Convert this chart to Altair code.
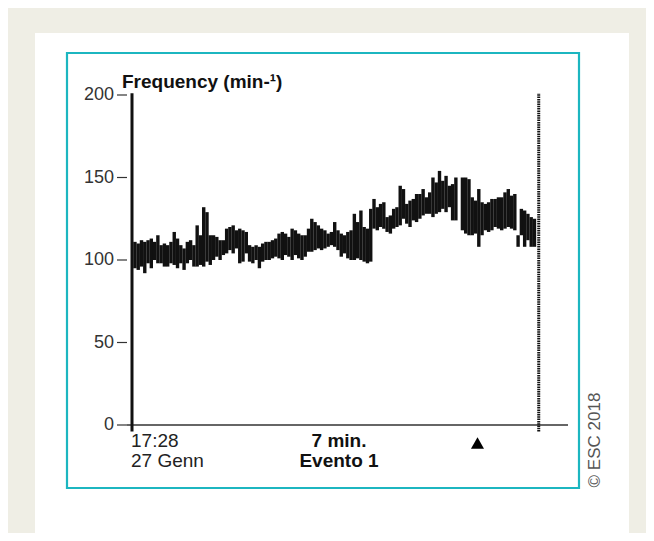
import altair as alt
import pandas as pd

# ---- data ----
idx = list(range(0, 99)) + list(range(100, 123))
low = [95, 94, 96, 92, 98, 95, 100, 98, 98, 96,
       96, 98, 97, 95, 98, 94, 98, 100, 96, 96,
       97, 96, 99, 97, 100, 102, 100, 103, 104, 106,
       104, 107, 98, 99, 104, 99, 98, 100, 95, 99,
       100, 100, 101, 102, 101, 100, 103, 102, 100, 103,
       101, 100, 102, 105, 105, 106, 107, 106, 107, 108,
       109, 108, 106, 102, 104, 101, 100, 100, 101, 100,
       99, 98, 99, 119, 118, 120, 119, 117, 116, 119,
       120, 121, 125, 122, 120, 124, 123, 125, 127, 128,
       128, 126, 128, 129, 131, 129, 132, 124, 124,
       118, 116, 115, 115, 116, 108, 115, 118, 117, 118,
       120, 119, 118, 119, 120, 119, 118, 108, 115, 108,
       112, 108, 108]
high = [111, 110, 112, 111, 112, 113, 111, 115, 109, 110,
        109, 111, 117, 113, 109, 107, 111, 112, 109, 121,
        115, 132, 129, 115, 115, 114, 112, 112, 119, 120,
        121, 118, 119, 118, 117, 109, 108, 109, 108, 110,
        111, 111, 112, 113, 116, 117, 116, 114, 119, 118,
        116, 115, 115, 119, 125, 123, 121, 119, 118, 116,
        117, 123, 118, 116, 115, 117, 118, 128, 123, 130,
        120, 119, 131, 137, 132, 134, 135, 126, 127, 131,
        132, 145, 143, 134, 136, 137, 140, 140, 143, 138,
        141, 150, 147, 154, 148, 151, 145, 146, 150,
        150, 150, 149, 138, 136, 143, 135, 134, 135, 137,
        137, 138, 138, 141, 143, 139, 140, 115, 131, 130,
        128, 126, 125]

y_ticks = [0, 50, 100, 150, 200]
y_tick_labels = ["0", "50", "100", "150", "200"]
baseline = [0]
start_x = [-0.9]
end_x = [123.3]
line_bottom = [-4]
line_top = [201]
event_x = [104.6]

x_domain = [-0.9, 130.1]
y_domain = [0, 200]

TEAL = "#1cb6c0"
BEIGE = "#efeee5"
FONT = "Liberation Sans"

bars_df = pd.DataFrame({"i": idx, "low": low, "high": high})
ticks_df = pd.DataFrame({"v": y_ticks, "lab": y_tick_labels})
base_df = pd.DataFrame({"v": baseline})
start_df = pd.DataFrame({"x": start_x, "bottom": line_bottom, "top": line_top})
end_df = pd.DataFrame({"x": end_x, "bottom": line_bottom, "top": line_top})
event_df = pd.DataFrame({"x": event_x})
one = pd.DataFrame({"a": [0]})

xs = alt.Scale(domain=x_domain, nice=False, zero=False)
ys = alt.Scale(domain=y_domain, nice=False, zero=False)

panel = alt.Chart(one).mark_rect(fill="white").encode(
    x=alt.value(-92), x2=alt.value(502), y=alt.value(-62), y2=alt.value(440))

frame = alt.Chart(one).mark_rect(fillOpacity=0, stroke=TEAL, strokeWidth=2.2).encode(
    x=alt.value(-60), x2=alt.value(452), y=alt.value(-42), y2=alt.value(393))

# y-axis ticks and labels, x-axis baseline (drawn as marks through the y scale)
tick_marks = alt.Chart(ticks_df).mark_rule(color="#333", strokeWidth=1.2).encode(
    x=alt.value(-10), x2=alt.value(0),
    y=alt.Y("v:Q", scale=ys, axis=None))
tick_labels = alt.Chart(ticks_df).mark_text(
    align="right", baseline="middle", fontSize=18, font=FONT, color="#333").encode(
    x=alt.value(-13), y=alt.Y("v:Q", scale=ys, axis=None), text="lab:N")
base_line = alt.Chart(base_df).mark_rule(color="#333", strokeWidth=1.4).encode(
    x=alt.value(0), x2=alt.value(441),
    y=alt.Y("v:Q", scale=ys, axis=None))

bars = alt.Chart(bars_df).mark_bar(size=3.4, color="#111").encode(
    x=alt.X("i:Q", scale=xs, axis=None),
    y=alt.Y("low:Q", scale=ys, axis=None),
    y2="high:Q",
)

start_rule = alt.Chart(start_df).mark_rule(color="#111", strokeWidth=3).encode(
    x=alt.X("x:Q", scale=xs, axis=None),
    y=alt.Y("bottom:Q", scale=ys, axis=None), y2="top:Q")

end_rule = alt.Chart(end_df).mark_rule(color="#111", strokeWidth=3, strokeDash=[1.5, 0.8]).encode(
    x=alt.X("x:Q", scale=xs, axis=None),
    y=alt.Y("bottom:Q", scale=ys, axis=None), y2="top:Q")

event = alt.Chart(event_df).mark_point(shape="triangle-up", filled=True, size=170,
                                       color="black", opacity=1).encode(
    x=alt.X("x:Q", scale=xs, axis=None), y=alt.value(348))


def label(text, x, y, align="left", bold=False, size=19, angle=0, color="#222", font=FONT, baseline="alphabetic"):
    kw = dict(align=align, baseline=baseline, fontSize=size, font=font, color=color,
              fontWeight="bold" if bold else "normal")
    if angle:
        kw["angle"] = angle
    return alt.Chart(one).mark_text(**kw).encode(
        x=alt.value(x), y=alt.value(y), text=alt.value(text))


title = label("Frequency (min-¹)", -5, -7, bold=True, color="#111")
t1 = label("17:28", 4, 352)
t2 = label("27 Genn", 4, 372)
t3 = label("7 min.", 212, 352, align="center", bold=True, color="#111")
t4 = label("Evento 1", 212, 372, align="center", bold=True, color="#111")
copy = label("© ESC 2018", 468, 345, align="center", size=17, angle=270,
             color="#555", baseline="middle")

chart = alt.layer(panel, frame, tick_marks, tick_labels, base_line, bars,
                  start_rule, end_rule, event,
                  title, t1, t2, t3, t4, copy).properties(
    width=439, height=330,
    padding={"left": 119, "top": 87, "right": 80, "bottom": 108},
    autosize=alt.AutoSizeParams(type="none"),
).configure(background=BEIGE).configure_view(strokeWidth=0)

chart.save("out.html", embed_options={"renderer": "svg", "actions": False})
